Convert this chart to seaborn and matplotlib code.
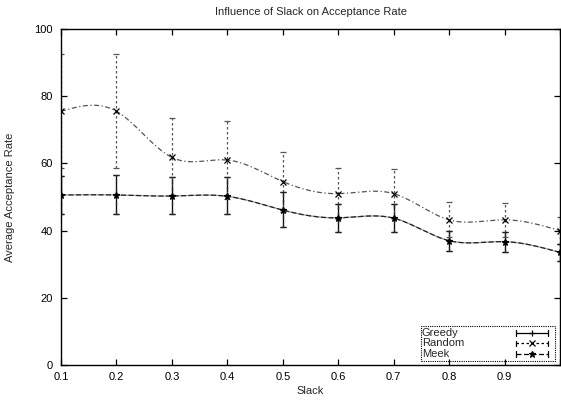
import matplotlib
matplotlib.use("Agg")
import matplotlib.pyplot as plt
from matplotlib.patches import Rectangle
import numpy as np
import pandas as pd
import seaborn as sns

# values
slack = [0.1, 0.2, 0.3, 0.4, 0.5, 0.6, 0.7, 0.8, 0.9, 1.0]
greedy = [50.6, 50.6, 50.3, 50.2, 46.1, 43.8, 43.7, 37.0, 36.7, 33.5]
greedy_lo = [45.0, 45.0, 45.0, 45.0, 41.2, 39.6, 39.5, 34.0, 33.5, 31.0]
greedy_hi = [56.2, 56.5, 56.0, 56.0, 51.5, 48.0, 48.0, 40.0, 39.6, 36.0]
random = [75.5, 75.5, 61.8, 61.0, 54.6, 51.0, 51.0, 43.2, 43.2, 40.0]
random_lo = [58.5, 58.5, 50.5, 49.5, 45.6, 43.5, 43.7, 38.0, 38.1, 36.0]
random_hi = [92.5, 92.5, 73.5, 72.5, 63.5, 58.5, 58.3, 48.5, 48.3, 44.0]
meek = greedy
meek_lo = greedy_lo
meek_hi = greedy_hi


def csplines(x, y, n=300):
    # natural cubic spline like gnuplot's "smooth csplines"
    x = np.asarray(x, float)
    y = np.asarray(y, float)
    h = np.diff(x)
    k = len(x)
    A = np.zeros((k, k))
    b = np.zeros(k)
    A[0, 0] = A[-1, -1] = 1
    for i in range(1, k - 1):
        A[i, i - 1] = h[i - 1]
        A[i, i] = 2 * (h[i - 1] + h[i])
        A[i, i + 1] = h[i]
        b[i] = 6 * ((y[i + 1] - y[i]) / h[i] - (y[i] - y[i - 1]) / h[i - 1])
    m = np.linalg.solve(A, b)
    xs = np.linspace(x[0], x[-1], n)
    idx = np.clip(np.searchsorted(x, xs) - 1, 0, k - 2)
    x0, x1 = x[idx], x[idx + 1]
    hh = x1 - x0
    t0, t1 = x1 - xs, xs - x0
    ys = (m[idx] * t0 ** 3 + m[idx + 1] * t1 ** 3) / (6 * hh) \
        + (y[idx] / hh - m[idx] * hh / 6) * t0 \
        + (y[idx + 1] / hh - m[idx + 1] * hh / 6) * t1
    return xs, ys


sns.set_style("ticks")
plt.rcParams['font.family'] = ['Liberation Sans', 'DejaVu Sans']
plt.rcParams['font.size'] = 8

fig = plt.figure(figsize=(5.61, 4.0), dpi=100)
ax = fig.add_axes([61 / 561, 35 / 400, 499 / 561, 336 / 400])

series = [
    ("Greedy", greedy, greedy_lo, greedy_hi, "-", "-", "+", "#9a9a9a"),
    ("Random", random, random_lo, random_hi, (0, (2, 2)), (0, (4, 2, 1, 2)), "x", "#555555"),
    ("Meek", meek, meek_lo, meek_hi, (0, (4, 2)), (0, (4, 2)), "*", "#222222"),
]

# legend box, drawn by hand so labels sit left like gnuplot's key
lx0, lx1, ly0, ly1 = 0.7214, 0.99, 0.012, 0.116
ax.add_patch(Rectangle((lx0, ly0), lx1 - lx0, ly1 - ly0, transform=ax.transAxes,
                       fill=False, edgecolor="black", linewidth=0.8,
                       linestyle=(0, (1, 1)), zorder=5))
rows = [0.0952, 0.064, 0.0327]

for i, (name, y, lo, hi, ls, cls, mk, col) in enumerate(series):
    yerr = [np.array(y) - np.array(lo), np.array(hi) - np.array(y)]
    xs, ys = csplines(slack, y)
    smooth = pd.DataFrame({"Slack": xs, "Rate": ys})
    sns.lineplot(data=smooth, x="Slack", y="Rate", ax=ax, color=col,
                 linestyle=cls, linewidth=0.9, legend=False)
    eb = ax.errorbar(slack, y, yerr=yerr, fmt="none", ecolor="black" if i == 0 else col,
                     elinewidth=0.9, capsize=2.2, capthick=0.9)
    eb[2][0].set_linestyle(ls)
    ax.plot(slack, y, linestyle="none", marker=mk, color="black",
            markersize=4.5, markeredgewidth=0.9)

    # key entry
    ry = rows[i]
    ax.text(0.7234, ry, name, transform=ax.transAxes, ha="left",
            va="center", fontsize=8, zorder=6)
    ax.plot([0.912, 0.976], [ry, ry], transform=ax.transAxes, color="black",
            linestyle=ls, linewidth=0.9, zorder=6, clip_on=False)
    ax.plot([0.944], [ry], transform=ax.transAxes, color="black", marker=mk,
            markersize=4.5, markeredgewidth=0.9, zorder=6, clip_on=False)
    for ex in (0.912, 0.976):
        ax.plot([ex, ex], [ry - 0.008, ry + 0.008], transform=ax.transAxes,
                color="black", linewidth=0.9, zorder=6, clip_on=False)

ax.set_xlim(0.1, 1.0)
ax.set_ylim(0, 100)
ax.set_xticks([0.1, 0.2, 0.3, 0.4, 0.5, 0.6, 0.7, 0.8, 0.9, 1.0])
ax.set_xticklabels(["0.1", "0.2", "0.3", "0.4", "0.5", "0.6", "0.7", "0.8", "0.9", ""])
ax.set_yticks([0, 20, 40, 60, 80, 100])
ax.tick_params(direction="in", top=True, right=True, length=4, width=0.9,
               labelsize=8, colors="black")
ax.tick_params(axis="x", pad=5)
ax.tick_params(axis="y", pad=6)
for s in ax.spines.values():
    s.set_linewidth(1.0)
    s.set_color("black")

ax.set_xlabel("Slack", fontsize=8, labelpad=3)
ax.set_ylabel("Average Acceptance Rate", fontsize=8, labelpad=14)
fig.text(311 / 561, 1 - 12 / 400, "Influence of Slack on Acceptance Rate",
         ha="center", va="center", fontsize=8)

fig.savefig("out.png", dpi=100)
